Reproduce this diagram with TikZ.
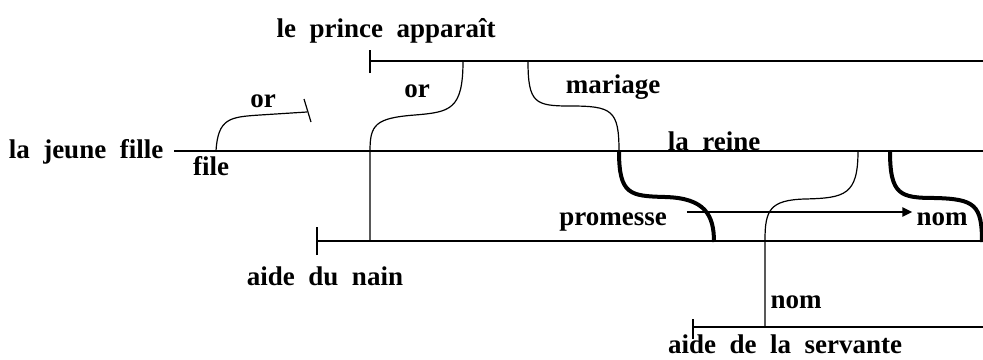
\documentclass[tikz,border=0pt]{standalone}
\usepackage{fontspec}
\newfontfamily\tfont{Liberation Serif}[WordSpace={2},BoldFont={* Bold}]
\usetikzlibrary{arrows.meta}
\begin{document}
\begin{tikzpicture}[x=1pt,y=-1pt,
  lbl/.style={inner sep=0pt,anchor=base,font=\tfont\fontsize{27}{30}\selectfont\bfseries},
  thin/.style={line width=1.2pt},
  thick/.style={line width=4pt},
  tickline/.style={line width=1.2pt},
  arr/.style={line width=2.6pt,-{Triangle[length=10pt,width=9pt]}}]
\useasboundingbox (0,0) rectangle (983,359);
% named coordinates for line ends
\coordinate (pS) at (370,61);  \coordinate (pE) at (984,61);
\coordinate (fS) at (174,151); \coordinate (fE) at (984,151);
\coordinate (nS) at (317,241); \coordinate (nE) at (984,241);
\coordinate (sS) at (693,327); \coordinate (sE) at (984,327);
% labels
\node[lbl] (prince) at (386,37) {le prince apparaît};
\node[lbl] (fille) at (86,158) {la jeune fille};
\node[lbl] (file) at (211,175) {file};
\node[lbl] (or1) at (263,107) {or};
\node[lbl] (or2) at (417,97) {or};
\node[lbl] (mariage) at (613,93) {mariage};
\node[lbl] (reine) at (714,150) {la reine};
\node[lbl] (promesse) at (613,225) {promesse};
\node[lbl] (nom1) at (942,225) {nom};
\node[lbl] (nain) at (325,285) {aide du nain};
\node[lbl] (nom2) at (796,308) {nom};
\node[lbl] (servante) at (785,353) {aide de la servante};
% horizontal lines
\draw[thin] (pS) -- (pE);
\draw[thin] (fS) -- (fE);
\draw[thin] (nS) -- (nE);
\draw[thin] (sS) -- (sE);
% ticks
\draw[tickline] ([yshift=-12pt]pS) -- ([yshift=11pt]pS);
\draw[tickline] ([yshift=-14pt]nS) -- ([yshift=14pt]nS);
\draw[tickline] ([yshift=-12pt]sS) -- ([yshift=8pt]sS);
% left "or" curve with tick
\coordinate (a1) at (216,151);
\coordinate (a2) at (307,112);
\draw[thin] (a1) .. controls (218,118) and (230,117) .. (260,115) -- (a2);
\draw[tickline] (304,99) -- (311,122);
% middle "or" curve
\coordinate (b1) at (463,61);
\coordinate (b2) at (370,241);
\draw[thin] (b1) .. controls (463,110) and (450,112) .. (415,115)
  .. controls (375,118) and (370,125) .. (370,151) -- (b2);
% mariage curve (thin part)
\coordinate (c1) at (528,61);
\coordinate (c2) at (619,151);
\draw[thin] (c1) .. controls (528,103) and (535,106) .. (570,106)
  .. controls (612,106) and (619,110) .. (c2);
% thick continuation to nain line
\coordinate (c3) at (714,242);
\draw[thick] (c2) .. controls (619,195) and (630,196) .. (665,197)
  .. controls (705,198) and (714,215) .. (c3);
% thin curve from la reine line down to servante line
\coordinate (d1) at (858,151);
\coordinate (d2) at (765,327);
\draw[thin] (d1) .. controls (858,195) and (845,198) .. (805,199)
  .. controls (770,200) and (765,210) .. (765,240) -- (d2);
% thick right curve
\coordinate (e1) at (890,151);
\coordinate (e2) at (982,242);
\draw[thick] (e1) .. controls (890,195) and (900,198) .. (935,198)
  .. controls (975,199) and (982,205) .. (e2);
% arrow promesse -> nom
\draw[arr] ([xshift=20pt]promesse.base east |- 0,212) -- ([xshift=-4pt]nom1.base west |- 0,212);
\end{tikzpicture}
\end{document}
